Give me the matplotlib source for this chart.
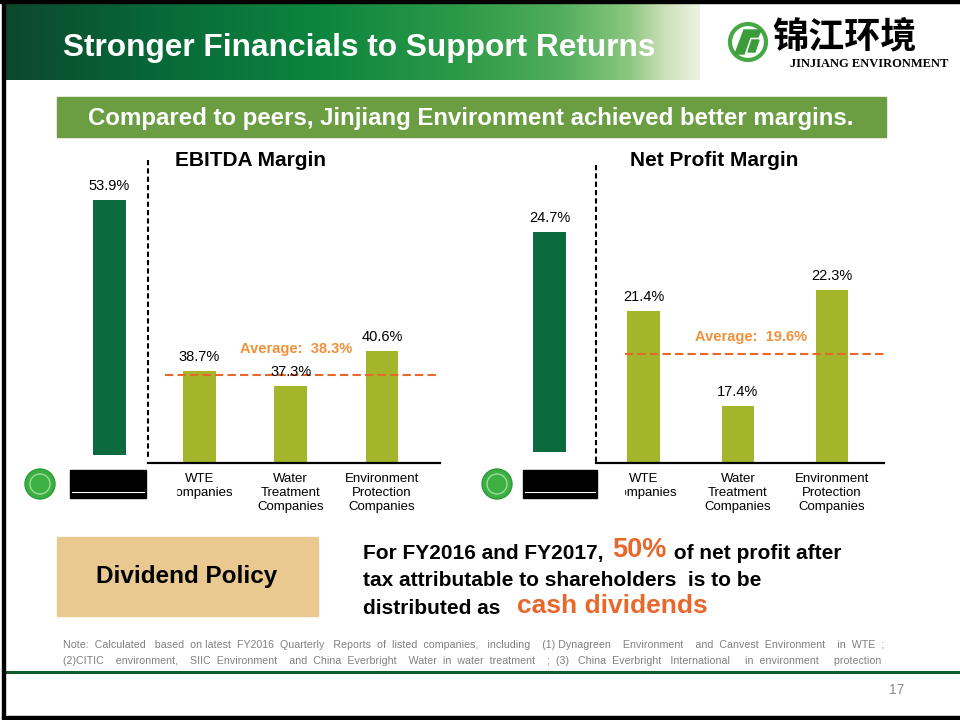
import numpy as np
import matplotlib.pyplot as plt
from matplotlib.patches import Rectangle, Circle, Polygon

plt.rcParams['font.family'] = ['Liberation Sans', 'DejaVu Sans']

# data
peer_labels = ['WTE\nCompanies', 'Water\nTreatment\nCompanies', 'Environment\nProtection\nCompanies']
ebitda_jj = 53.9
ebitda_peers = [38.7, 37.3, 40.6]
ebitda_avg = 38.3
npm_jj = 24.7
npm_peers = [21.4, 17.4, 22.3]
npm_avg = 19.6

DARK = '#0b6b3c'
OLIVE = '#a3b52a'
ORANGE = '#e8672b'
AVG_TXT = '#f0913a'

W, H = 960, 720
fig = plt.figure(figsize=(9.6, 7.2), dpi=100)


def px_axes(x0, y0, x1, y1, **kw):
    # box in pixels, origin top-left
    return fig.add_axes([x0 / W, 1 - y1 / H, (x1 - x0) / W, (y1 - y0) / H], **kw)


def jj_bar(box, val, top):
    ax = px_axes(*box)
    ax.bar([0], [val], width=1, color=DARK)
    ax.set_xlim(-1, 1)
    ax.set_ylim(0, top)
    ax.axis('off')
    ax.annotate(f'{val}%', (0, val), xytext=(0, 5), textcoords='offset points',
                ha='center', va='bottom', fontsize=10.5)


def peer_bars(box, vals, xlim, ylim, width, avg, avg_xmin, avg_off):
    ax = px_axes(*box)
    x = np.arange(len(vals))
    ax.bar(x, vals, width=width, color=OLIVE)
    ax.set_xlim(*xlim)
    ax.set_ylim(*ylim)
    for s in ['top', 'left', 'right']:
        ax.spines[s].set_visible(False)
    ax.spines['bottom'].set_linewidth(1.6)
    ax.set_yticks([])
    ax.set_xticks(x, peer_labels, fontsize=9.5, linespacing=1.25)
    ax.tick_params(axis='x', length=0, pad=7)
    for xi, v in zip(x, vals):
        ax.annotate(f'{v}%', (xi, v), xytext=(0, 5), textcoords='offset points',
                    ha='center', va='bottom', fontsize=10.5)
    ax.axhline(avg, xmin=avg_xmin, xmax=1, color=ORANGE, lw=1.5, ls=(0, (4, 2)))
    ax.annotate(f'Average:  {avg}%', (1, avg), xytext=avg_off, textcoords='offset points',
                ha='center', va='center', fontsize=10.5, weight='bold', color=AVG_TXT)
    return ax


# EBITDA margin
jj_bar((76, 171, 143, 455), ebitda_jj, 60)
peer_bars((148, 251, 440, 463), ebitda_peers, (-0.565, 2.635), (30, 50), 0.36,
          ebitda_avg, 0.058, (3.5, 19))

# Net profit margin
jj_bar((516, 185, 583, 452), npm_jj, 30)
peer_bars((596, 226, 884, 463), npm_peers, (-0.51, 2.553), (15, 25), 0.35,
          npm_avg, 0.1, (9.5, 12))

# slide decoration on top
ov = fig.add_axes([0, 0, 1, 1], zorder=10)
ov.set_xlim(0, W)
ov.set_ylim(H, 0)
ov.axis('off')
ov.patch.set_alpha(0)

# header gradient
stops = np.array([0, 0.2, 0.45, 0.65, 0.8, 0.9, 0.95, 1.0])
cols = np.array([[0.05, 0.28, 0.17], [0.03, 0.40, 0.22], [0.05, 0.52, 0.24],
                 [0.17, 0.60, 0.28], [0.32, 0.68, 0.36], [0.55, 0.78, 0.50],
                 [0.80, 0.88, 0.72], [0.93, 0.95, 0.88]])
t = np.linspace(0, 1, 400)
grad = np.stack([np.interp(t, stops, cols[:, i]) for i in range(3)], axis=-1)[None, :, :]
ov.imshow(grad, extent=(5, 700, 80, 3), aspect='auto', zorder=1)
ov.text(63, 48, 'Stronger Financials to Support Returns', color='white',
        fontsize=22.8, weight='bold', va='center', ha='left', zorder=3)

# frame
ov.add_patch(Rectangle((0, 0), W, 3, color='black', zorder=4))
ov.add_patch(Rectangle((2, 0), 3, 719, color='black', zorder=4))
ov.add_patch(Rectangle((2, 716), W, 3, color='black', zorder=4))

# company logo top right
ov.add_patch(Circle((748, 42), 18, facecolor='white', edgecolor='#45a845', lw=3, zorder=3))
ov.add_patch(Polygon([(744, 30), (761, 30), (758, 37), (750, 37), (744, 54), (735, 54)],
                     color='#3a9d3a', zorder=4))
ov.add_patch(Polygon([(752, 40), (759, 40), (755, 52), (748, 52)], color='#3a9d3a', zorder=4))
ov.text(772, 37, '锦江环境', fontsize=26, weight='bold', va='center', ha='left',
        family=['Noto Sans CJK SC', 'DejaVu Sans'], zorder=3)
ov.text(790, 64, 'JINJIANG ENVIRONMENT', fontsize=9, weight='bold', va='center', ha='left',
        family='Liberation Serif', zorder=3)

# subtitle banner
ov.add_patch(Rectangle((57, 97), 829, 40, color='#6b9e42', zorder=2))
ov.text(471, 118, 'Compared to peers, Jinjiang Environment achieved better margins.',
        color='white', fontsize=17.3, weight='bold', ha='center', va='center', zorder=3)

# chart titles and dividers
ov.text(175, 161, 'EBITDA Margin', fontsize=15, weight='bold', va='center')
ov.text(630, 161, 'Net Profit Margin', fontsize=15, weight='bold', va='center')
ov.plot([148, 148], [160, 458], color='black', lw=1.5, ls=(0, (2.5, 1.5)))
ov.plot([596, 596], [165, 462], color='black', lw=1.5, ls=(0, (2.5, 1.5)))

# small logos under the Jinjiang bars
for cx, rx, rw, cover in [(40, 70, 76, (20, 176)), (497, 523, 74, (475, 624))]:
    ov.add_patch(Rectangle((cover[0], 465), cover[1] - cover[0], 40, color='white', zorder=2))
    ov.add_patch(Circle((cx, 484), 15, facecolor='#3cb043', edgecolor='#2e9a35', lw=1, zorder=3))
    ov.add_patch(Circle((cx, 484), 10, facecolor='none', edgecolor='#9fdc98', lw=1, zorder=3))
    ov.add_patch(Rectangle((rx, 470), rw, 28, color='black', zorder=3))
    ov.plot([rx + 2, rx + rw - 2], [492, 492], color='white', lw=0.8, zorder=4)

# dividend policy
ov.add_patch(Rectangle((57, 537), 261, 79, color='#e9c98f', zorder=2))
ov.text(187, 577, 'Dividend Policy', fontsize=17.5, weight='bold', ha='center', va='center', zorder=3)

t1 = ov.text(363, 563, 'For FY2016 and FY2017, ', fontsize=15, weight='bold', va='bottom')
t2 = ov.annotate('50%', xy=(1, 0), xycoords=t1, xytext=(2, 0), textcoords='offset points',
                 fontsize=19.5, weight='bold', color=ORANGE, va='bottom')
ov.annotate(' of net profit after', xy=(1, 0), xycoords=t2, xytext=(1, 0),
            textcoords='offset points', fontsize=15, weight='bold', va='bottom')
ov.text(363, 590, 'tax attributable to shareholders  is to be', fontsize=15, weight='bold', va='bottom')
t3 = ov.text(363, 618, 'distributed as ', fontsize=15, weight='bold', va='bottom')
ov.annotate('cash dividends', xy=(1, 0), xycoords=t3, xytext=(8, 0), textcoords='offset points',
            fontsize=19, weight='bold', color=ORANGE, va='bottom')

# note
ov.text(63, 645, 'Note:  Calculated   based  on latest  FY2016  Quarterly   Reports  of  listed  companies,   '
        'including    (1) Dynagreen    Environment    and  Canvest  Environment    in  WTE  ;',
        fontsize=7.7, color='#808080', va='center')
ov.text(63, 661, '(2)CITIC    environment,    SIIC  Environment    and  China  Everbright    Water  in  water  '
        'treatment    ;  (3)   China  Everbright   International     in  environment     protection',
        fontsize=7.7, color='#808080', va='center')

ov.plot([5, W], [672, 672], color='#0d5a2c', lw=2.2)
ov.text(897, 690, '17', fontsize=10, color='#8c8c8c', ha='center', va='center')

fig.savefig('out.png', dpi=100)
